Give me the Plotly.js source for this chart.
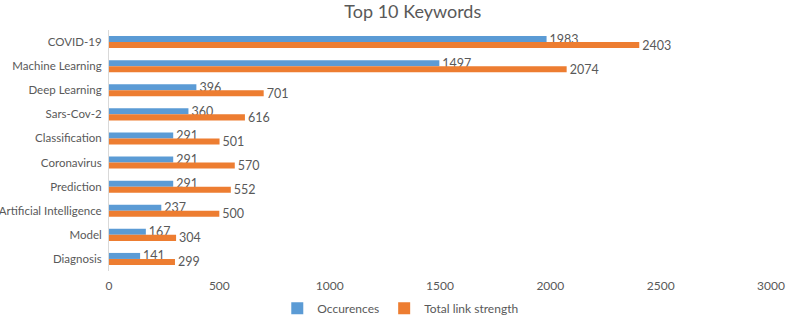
<!DOCTYPE html>
<html>
<head>
<meta charset="utf-8">
<script src="https://cdn.plot.ly/plotly-3.0.1.min.js"></script>
<style>html,body{margin:0;padding:0;background:#fff;}#chart{width:800px;height:315px;}</style>
</head>
<body>
<div id="chart"></div>
<script>
const categories = ["COVID-19","Machine Learning","Deep Learning","Sars-Cov-2","Classification","Coronavirus","Prediction","Artificial Intelligence","Model","Diagnosis"];
const occurences = [1983,1497,396,360,291,291,291,237,167,141];
const linkStrength = [2403,2074,701,616,501,570,552,500,304,299];
const xTicks = [0,500,1000,1500,2000,2500,3000];

const font = "Lato, Open Sans, sans-serif";
const textColor = "#595959";

const traces = [
  {type:"bar", orientation:"h", name:"Occurences", y:categories, x:occurences,
   marker:{color:"#5B9BD5"}, text:occurences.map(String), textposition:"outside", constraintext:"none",
   textfont:{size:12.5,color:textColor,family:font}, cliponaxis:false},
  {type:"bar", orientation:"h", name:"Total link strength", y:categories, x:linkStrength,
   marker:{color:"#ED7D31"}, text:linkStrength.map(String), textposition:"outside", constraintext:"none",
   textfont:{size:12.5,color:textColor,family:font}, cliponaxis:false}
];

const layout = {
  width:800, height:315,
  margin:{l:109, r:29, t:30, b:44, autoexpand:false},
  paper_bgcolor:"#fff", plot_bgcolor:"#fff",
  font:{family:font, color:textColor, size:12},
  title:{text:"Top 10 Keywords", x:0.516, xanchor:"center", y:0.962, yanchor:"middle", font:{size:18, color:textColor, family:font}},
  barmode:"group", bargap:0.5, bargroupgap:0,
  xaxis:{range:[0,3000], tickvals:xTicks, ticktext:xTicks.map(String), showgrid:false, zeroline:false,
         showline:false, ticks:"", ticklabelstandoff:6, tickfont:{size:12,color:textColor}, fixedrange:true},
  yaxis:{autorange:"reversed", showgrid:false, zeroline:false, showline:true, linecolor:"#d9d9d9", linewidth:1,
         ticks:"", ticklen:0, ticklabelstandoff:4, tickfont:{size:11.5,color:textColor}, fixedrange:true},
  showlegend:true,
  legend:{orientation:"h", x:0.44, xanchor:"center", y:-0.155, yanchor:"middle",
          font:{size:12,color:textColor}, itemwidth:30, traceorder:"normal"}
};

Plotly.newPlot("chart", traces, layout, {displayModeBar:false, staticPlot:true});
</script>
</body>
</html>
